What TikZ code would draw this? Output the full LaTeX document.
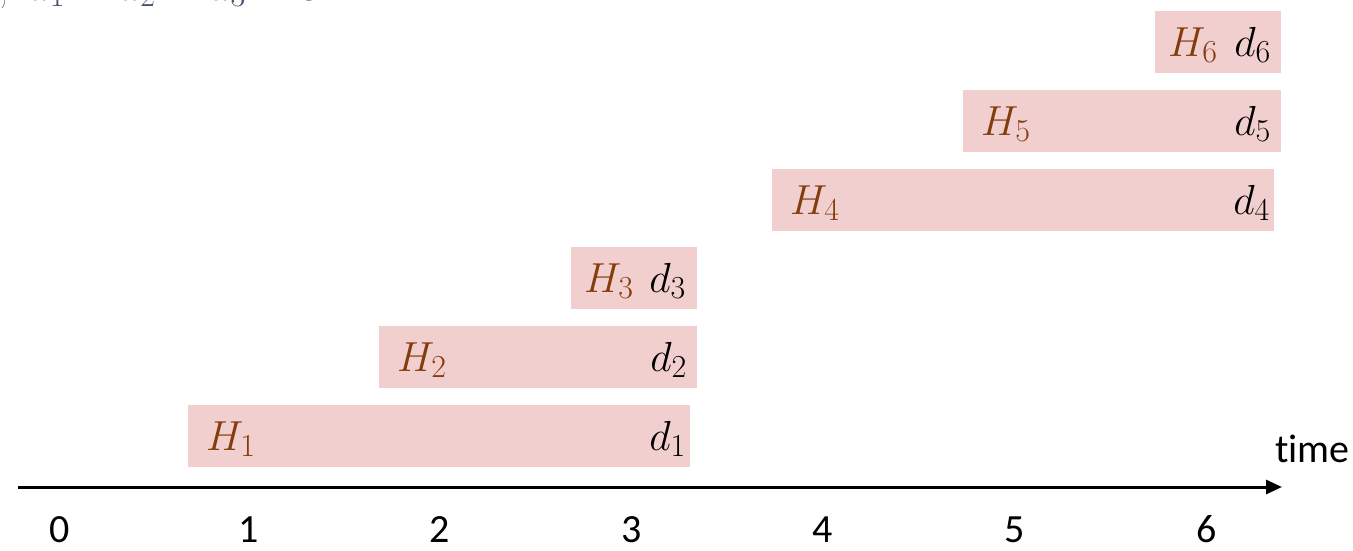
\RequirePackage{fix-cm}
\documentclass[tikz,border=0pt]{standalone}
\usepackage{fontspec}
\setsansfont{Carlito}[Ligatures=NoCommon]
\usetikzlibrary{arrows.meta}
\DeclareMathSizes{42}{42}{32}{24}
\definecolor{boxfill}{HTML}{F2CFCF}
\definecolor{hbrown}{HTML}{843C0C}
\definecolor{topgray}{HTML}{44546A}
\tikzset{
  jobbox/.style={fill=boxfill, draw=none, anchor=north west, inner sep=0pt},
  hlab/.style={text=hbrown, font=\fontsize{42}{48}\selectfont, inner sep=0pt},
  dlab/.style={text=black, font=\fontsize{42}{48}\selectfont, inner sep=0pt},
  ticklab/.style={font=\sffamily\fontsize{40}{46}\selectfont, inner sep=0pt},
  axis/.style={line width=3pt, -{Triangle[length=16pt,width=14pt]}}
}
\begin{document}
\begin{tikzpicture}[x=1pt,y=-1pt]
\useasboundingbox (0,0) rectangle (1353,550);
\clip (0,0) rectangle (1353,550);
% clipped header text
\node[anchor=base west, inner sep=0pt, text=topgray, font=\fontsize{42}{48}\selectfont] (top) at (-2,0) {$;\ a_1=a_2=a_3=3.$};
% boxes
\node[jobbox, minimum width=502pt, minimum height=62pt] (b1) at (188,405) {};
\node[jobbox, minimum width=318pt, minimum height=62pt] (b2) at (379,326) {};
\node[jobbox, minimum width=126pt, minimum height=62pt] (b3) at (571,247) {};
\node[jobbox, minimum width=502pt, minimum height=62pt] (b4) at (772,169) {};
\node[jobbox, minimum width=318pt, minimum height=62pt] (b5) at (963,90) {};
\node[jobbox, minimum width=126pt, minimum height=62pt] (b6) at (1155,11) {};
% labels
\node[hlab, anchor=base west] (h1) at (206,450) {$H_1$};
\node[dlab, anchor=base east] (d1) at (686,450) {$d_1$};
\node[hlab, anchor=base west] (h2) at (397,371) {$H_2$};
\node[dlab, anchor=base east] (d2) at (687,371) {$d_2$};
\node[hlab, anchor=base west] (h3) at (584,292) {$H_3$};
\node[dlab, anchor=base east] (d3) at (686,292) {$d_3$};
\node[hlab, anchor=base west] (h4) at (790,214) {$H_4$};
\node[dlab, anchor=base east] (d4) at (1270,214) {$d_4$};
\node[hlab, anchor=base west] (h5) at (981,135) {$H_5$};
\node[dlab, anchor=base east] (d5) at (1271,135) {$d_5$};
\node[hlab, anchor=base west] (h6) at (1168,56) {$H_6$};
\node[dlab, anchor=base east] (d6) at (1271,56) {$d_6$};
% axis
\coordinate (axstart) at (18,487);
\coordinate (axend) at (1282,487);
\draw[axis] (axstart) -- (axend);
\node[ticklab, anchor=base east] (time) at (1350,462) {time};
\foreach \i/\x in {0/60,1/249,2/440,3/632,4/823,5/1015,6/1207}{
  \node[ticklab, anchor=base] (t\i) at (\x,542) {\i};
}
\end{tikzpicture}
\end{document}
